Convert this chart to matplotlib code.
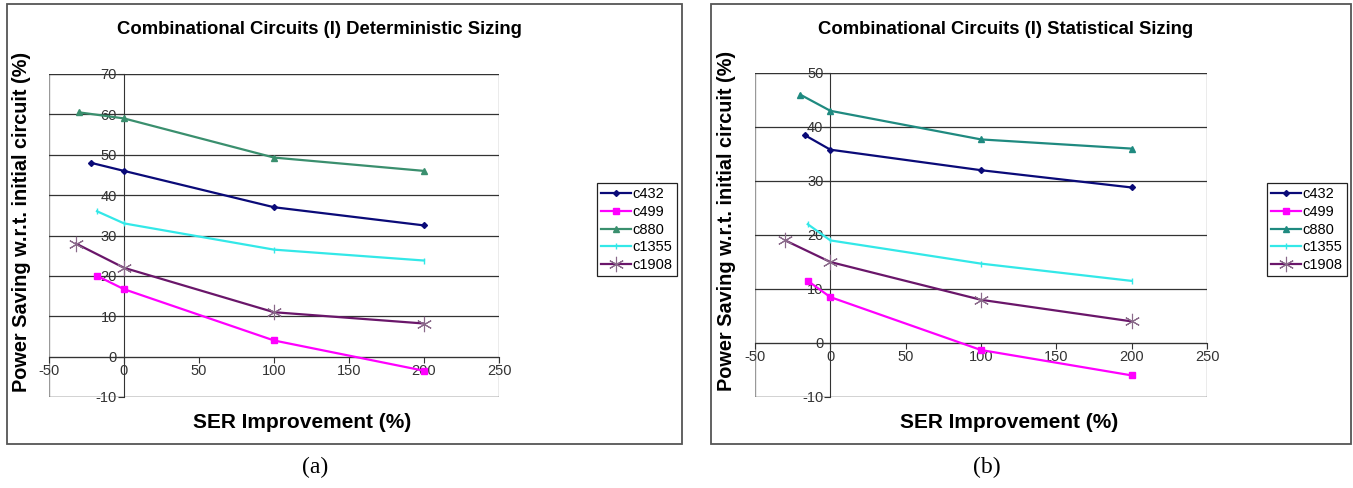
import matplotlib
matplotlib.use("Agg")
import matplotlib.pyplot as plt
from matplotlib.patches import Rectangle

plt.rcParams['font.family'] = ['Liberation Sans', 'DejaVu Sans']
plt.rcParams['axes.unicode_minus'] = False

W, H = 1353, 488

# ---- data ----
labels = ["c432", "c499", "c880", "c1355", "c1908"]

# (a) deterministic sizing
det_x = {
    "c432": [-22, 0, 100, 200],
    "c499": [-18, 0, 100, 200],
    "c880": [-30, 0, 100, 200],
    "c1355": [-18, 0, 100, 200],
    "c1908": [-32, 0, 100, 200],
}
det_y = {
    "c432": [48, 46, 37, 32.5],
    "c499": [20, 16.7, 4, -3.5],
    "c880": [60.5, 59, 49.3, 46],
    "c1355": [36, 33, 26.5, 23.8],
    "c1908": [28, 22, 11, 8.2],
}

# (b) statistical sizing
stat_x = {
    "c432": [-17, 0, 100, 200],
    "c499": [-15, 0, 100, 200],
    "c880": [-20, 0, 100, 200],
    "c1355": [-15, 0, 100, 200],
    "c1908": [-30, 0, 100, 200],
}
stat_y = {
    "c432": [38.5, 35.8, 32, 28.8],
    "c499": [11.5, 8.5, -1.3, -6],
    "c880": [46, 43, 37.7, 36],
    "c1355": [22, 19, 14.7, 11.5],
    "c1908": [19, 15, 8, 4],
}

colors_a = {"c432": "#0a0a78", "c499": "#ff00ff", "c880": "#3a8f6e",
            "c1355": "#33e8e8", "c1908": "#6a166a"}
colors_b = dict(colors_a, c880="#1f8a80")
markers = {"c432": ("D", 3), "c499": ("s", 4), "c880": ("^", 5),
           "c1355": ("|", 5), "c1908": ((6, 2, 0), 11)}

fig = plt.figure(figsize=(W / 100, H / 100), dpi=100)


def fx(px):
    return px / W


def fy(py):
    return 1 - py / H


def panel(box, ax_box, leg_xy, title, xs, ys, colors, ylim, caption, caption_x):
    # outer chart border
    x0, y0, x1, y1 = box
    fig.patches.append(Rectangle((fx(x0), fy(y1)), fx(x1 - x0), (y1 - y0) / H,
                                 transform=fig.transFigure, fill=False,
                                 edgecolor="#555555", lw=1.3))
    l, t, r, b = ax_box
    ax = fig.add_axes([fx(l), fy(b), fx(r - l), (b - t) / H])
    ax.set_xlim(-50, 250)
    ax.set_ylim(*ylim)
    for s in ["top", "right"]:
        ax.spines[s].set_visible(False)
    ax.spines["left"].set_position(("data", 0))
    ax.spines["bottom"].set_position(("data", 0))
    ax.spines["left"].set_color("#333333")
    ax.spines["bottom"].set_color("#333333")
    ax.add_patch(Rectangle((0, 0), 1, 1, transform=ax.transAxes, fill=False,
                           edgecolor="#999999", lw=1.0, zorder=0))
    ax.set_xticks(range(-50, 251, 50))
    ax.set_yticks(range(ylim[0], ylim[1] + 1, 10))
    ax.tick_params(axis="both", direction="out", length=4, width=0.8,
                   labelsize=10.5, labelcolor="#333333", color="#333333", pad=1)
    ax.yaxis.grid(True, color="#333333", lw=0.9)
    ax.set_axisbelow(True)

    for name in labels:
        m, ms = markers[name]
        ax.plot(xs[name], ys[name], color=colors[name], lw=1.6, marker=m,
                markersize=ms, markeredgewidth=1.0 if name != "c1908" else 0.8,
                markeredgecolor=colors[name] if name != "c1908" else "#8a6a8a",
                label=name, zorder=3, clip_on=False)

    fig.text(fx((x0 + x1) / 2 - 25), fy(30), title, ha="center", va="center",
             fontsize=13.3, fontweight="bold")
    fig.text(fx((l + r) / 2 + 28), fy(422), "SER Improvement (%)", ha="center",
             va="center", fontsize=15, fontweight="bold")
    fig.text(fx(x0 + 15), fy((t + b) / 2 - 14),
             "Power Saving w.r.t. initial circuit (%)", rotation=90,
             ha="center", va="center", fontsize=14.3, fontweight="bold")
    leg = ax.legend(loc="upper left", bbox_to_anchor=(fx(leg_xy[0]), fy(leg_xy[1])),
                    bbox_transform=fig.transFigure, fancybox=False,
                    edgecolor="#222222", framealpha=1, fontsize=10.5,
                    handlelength=2.0, handletextpad=0.15, borderpad=0.3,
                    borderaxespad=0, labelspacing=0.25)
    leg.get_frame().set_linewidth(0.9)
    fig.text(fx(caption_x), fy(467), caption, ha="center", va="center",
             fontsize=17, family="Liberation Serif")
    return ax


panel((7, 4, 682, 444), (49, 74, 499, 397), (597, 183),
      "Combinational Circuits (I) Deterministic Sizing",
      det_x, det_y, colors_a, (-10, 70), "(a)", 315)
panel((711, 4, 1351, 444), (755, 73, 1207, 397), (1267, 183),
      "Combinational Circuits (I) Statistical Sizing",
      stat_x, stat_y, colors_b, (-10, 50), "(b)", 987)

fig.savefig("out.png", dpi=100)
